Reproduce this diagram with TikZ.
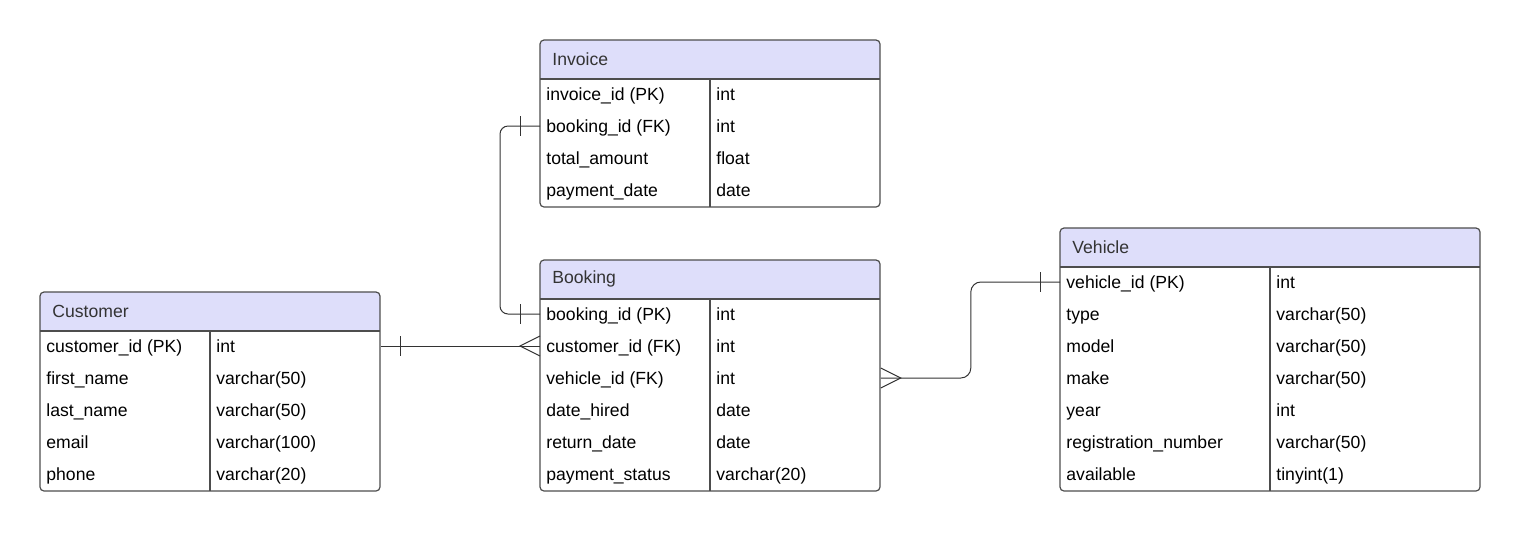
\documentclass[tikz,border=0pt]{standalone}
\usepackage{fontspec}
\setmainfont{Liberation Sans}
\usetikzlibrary{positioning}
\definecolor{hdrblue}{HTML}{DEDEFA}
\definecolor{edgegray}{HTML}{4D4D4D}
\tikzset{tbl/.style={draw=edgegray,line width=0.6pt,rounded corners=2pt}}
\tikzset{hdr/.style={anchor=west,inner xsep=6pt,align=left,text=black!80}}
\tikzset{cell/.style={anchor=west,inner xsep=3pt,text height=1.6ex,text depth=.45ex}}
\tikzset{rel/.style={draw=black!80,line width=0.5pt}}

\begin{document}
\begin{tikzpicture}[x=0.5pt,y=-0.5pt,font=\fontsize{8.8pt}{10.5pt}\selectfont]
        \useasboundingbox (0,0) rectangle (1520,532);
        % Invoice
        \begin{scope}
          \clip[rounded corners=2pt] (540,40) rectangle (880,207);
          \fill[hdrblue] (540,40) rectangle (880,79);
        \end{scope}
        \draw[tbl] (540,40) rectangle (880,207);
        \draw[tbl] (540,79) -- (880,79) (710,79) -- (710,207);
        \node[hdr,text width=158pt] (inv) at (540,59) {Invoice};
        \foreach \k/\t [count=\i] in {invoice\_id (PK)/int,booking\_id (FK)/int,
            total\_amount/float,payment\_date/date}{
          \node[cell] (inv-\i) at (540,{62+32*\i}) {\k};
          \node[cell] at (710,{62+32*\i}) {\t};
        }
        % Booking
        \begin{scope}
          \clip[rounded corners=2pt] (540,260) rectangle (880,491);
          \fill[hdrblue] (540,260) rectangle (880,299);
        \end{scope}
        \draw[tbl] (540,260) rectangle (880,491);
        \draw[tbl] (540,299) -- (880,299) (710,299) -- (710,491);
        \node[hdr,text width=158pt] (bk) at (540,279) {Booking};
        \foreach \k/\t [count=\i] in {booking\_id (PK)/int,customer\_id (FK)/int,
            vehicle\_id (FK)/int,date\_hired/date,return\_date/date,payment\_status/varchar(20)}{
          \node[cell] (bk-\i) at (540,{282+32*\i}) {\k};
          \node[cell] at (710,{282+32*\i}) {\t};
        }
        % Customer
        \begin{scope}
          \clip[rounded corners=2pt] (40,292) rectangle (380,491);
          \fill[hdrblue] (40,292) rectangle (380,331);
        \end{scope}
        \draw[tbl] (40,292) rectangle (380,491);
        \draw[tbl] (40,331) -- (380,331) (210,331) -- (210,491);
        \node[hdr,text width=158pt] (cust) at (40,311) {Customer};
        \foreach \k/\t [count=\i] in {customer\_id (PK)/int,first\_name/varchar(50),
            last\_name/varchar(50),email/varchar(100),phone/varchar(20)}{
          \node[cell] (cust-\i) at (40,{314+32*\i}) {\k};
          \node[cell] at (210,{314+32*\i}) {\t};
        }
        % Vehicle
        \begin{scope}
          \clip[rounded corners=2pt] (1060,228) rectangle (1480,491);
          \fill[hdrblue] (1060,228) rectangle (1480,267);
        \end{scope}
        \draw[tbl] (1060,228) rectangle (1480,491);
        \draw[tbl] (1060,267) -- (1480,267) (1270,267) -- (1270,491);
        \node[hdr,text width=198pt] (veh) at (1060,247) {Vehicle};
        \foreach \k/\t [count=\i] in {vehicle\_id (PK)/int,type/varchar(50),model/varchar(50),
            make/varchar(50),year/int,registration\_number/varchar(50),available/tinyint(1)}{
          \node[cell] (veh-\i) at (1060,{250+32*\i}) {\k};
          \node[cell] at (1270,{250+32*\i}) {\t};
        }
        % relations
        \coordinate (cust-r1) at (cust.east |- cust-1);
        \coordinate (bk-r3) at (bk.east |- bk-3);
        \draw[rel,rounded corners=4pt] (inv-2.west) -- ++(-40,0) |- (bk-1.west);
        \draw[rel] ([xshift=-10pt,yshift=5pt]inv-2.west) -- ([xshift=-10pt,yshift=-5pt]inv-2.west);
        \draw[rel] ([xshift=-10pt,yshift=5pt]bk-1.west) -- ([xshift=-10pt,yshift=-5pt]bk-1.west);
        \draw[rel] (cust-r1) -- (bk-2.west);
        \draw[rel] ([xshift=10pt,yshift=5pt]cust-r1) -- ([xshift=10pt,yshift=-5pt]cust-r1);
        \draw[rel] ([yshift=5pt]bk-2.west) -- ([xshift=-10pt]bk-2.west) -- ([yshift=-5pt]bk-2.west);
        \draw[rel,rounded corners=5pt] (bk-r3) -- ++(90,0) |- (veh-1.west);
        \draw[rel] ([yshift=5pt]bk-r3) -- ([xshift=10pt]bk-r3) -- ([yshift=-5pt]bk-r3);
        \draw[rel] ([xshift=-10pt,yshift=5pt]veh-1.west) -- ([xshift=-10pt,yshift=-5pt]veh-1.west);
      \end{tikzpicture}
\end{document}
